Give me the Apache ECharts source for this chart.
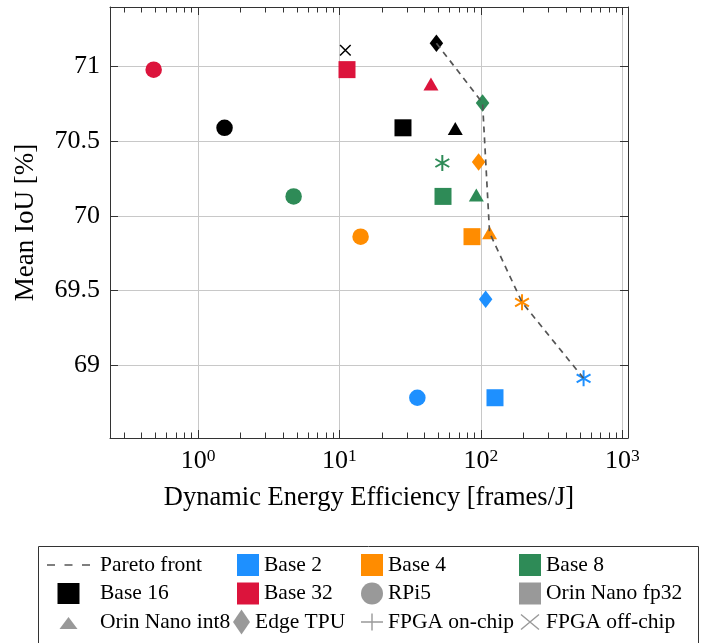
<!DOCTYPE html>
<html>
<head>
<meta charset="utf-8">
<script src="https://cdn.jsdelivr.net/npm/echarts@6/dist/echarts.min.js"></script>
<style>
  html, body { margin: 0; padding: 0; background: #fff; }
  #chart { width: 716px; height: 643px; }
</style>
</head>
<body>
<div id="chart"></div>
<script>
// devices (marker shape) in this order for every base
const devices = ['RPi5', 'Orin Nano fp32', 'Orin Nano int8', 'Edge TPU', 'FPGA on-chip', 'FPGA off-chip'];

// dynamic energy efficiency [frames/J] and mean IoU [%], null = not measured
const base2Eff = [35.5, 125.6, null, 107.9, 531, null];
const base2IoU = [68.78, 68.78, null, 69.44, 68.91, null];
const base4Eff = [14.1, 86.4, 115, 96.2, 195, null];
const base4IoU = [69.86, 69.86, 69.886, 70.36, 69.42, null];
const base8Eff = [4.74, 53.9, 92.7, 102.6, 53.3, null];
const base8IoU = [70.13, 70.13, 70.14, 70.757, 70.354, null];
const base16Eff = [1.54, 28.1, 65.8, 48.4, null, 11.0];
const base16IoU = [70.59, 70.59, 70.585, 71.157, null, 71.11];
const base32Eff = [0.486, 11.3, 44.3, null, null, null];
const base32IoU = [70.98, 70.98, 70.884, null, null, null];

const paretoEff = [48.4, 102.6, 115, 195, 531];
const paretoIoU = [71.157, 70.757, 69.886, 69.42, 68.91];

const majorTicks = [1, 10, 100, 1000];
const minorTicks = [0.3, 0.4, 0.5, 0.6, 0.7, 0.8, 0.9,
    2, 3, 4, 5, 6, 7, 8, 9, 20, 30, 40, 50, 60, 70, 80, 90,
    200, 300, 400, 500, 600, 700, 800, 900];

const FONT = "'Liberation Serif', 'Times New Roman', serif";
const GRAY = '#808080';

// thin filled bar between two points, used to build asterisk / cross / plus marks
function bar(x1, y1, x2, y2, t) {
    const len = Math.hypot(x2 - x1, y2 - y1);
    const nx = -(y2 - y1) / len * t / 2;
    const ny = (x2 - x1) / len * t / 2;
    const p = (x, y) => x.toFixed(3) + ',' + y.toFixed(3);
    return 'M' + p(x1 + nx, y1 + ny) + 'L' + p(x2 + nx, y2 + ny) +
        'L' + p(x2 - nx, y2 - ny) + 'L' + p(x1 - nx, y1 - ny) + 'Z';
}

// the two lone moves give the shape a fixed bounding box
function shape(hw, hh, parts) {
    return 'path://M' + (-hw) + ',' + (-hh) + 'M' + hw + ',' + hh + parts.join('');
}

const c30 = Math.cos(Math.PI / 6) * 8, s30 = Math.sin(Math.PI / 6) * 8;
const asteriskMark = shape(8, 8, [
    bar(0, -8, 0, 8, 2),
    bar(-c30, -s30, c30, s30, 2),
    bar(-c30, s30, c30, -s30, 2)
]);
const crossMark = shape(6, 6, [bar(-5.3, -5.3, 5.3, 5.3, 1.5), bar(-5.3, 5.3, 5.3, -5.3, 1.5)]);

const plusIcon = shape(11, 11, [bar(-11, 0, 11, 0, 1.4), bar(0, -8.5, 0, 8.5, 1.4)]);
const crossIcon = shape(11, 11, [bar(-9, -7.5, 9, 7.5, 1.4), bar(-9, 7.5, 9, -7.5, 1.4)]);
const triangleIcon = shape(21.5, 11, ['M-9,7L9,7L0,-5Z']);
const squareWideIcon = shape(21.5, 11, ['M-11,-10.5L11,-10.5L11,10.5L-11,10.5Z']);
const dashIcon = shape(21.5, 11, [
    bar(-21.5, 0, -13.5, 0, 1.6), bar(-4, 0, 4, 0, 1.6), bar(13.5, 0, 21.5, 0, 1.6)
]);
const diamondIcon = 'path://M0,-12.5L8.5,0L0,12.5L-8.5,0Z';

const deviceSymbols = ['circle', 'rect', 'triangle', 'diamond', asteriskMark, crossMark];
const deviceSizes = [16.5, 17, [15, 13], [13.5, 17.5], 16, 12];

function buildPoints(eff, iou) {
    const pts = [];
    eff.forEach((x, i) => {
        if (x == null) return;
        pts.push({ value: [x, iou[i]], symbol: deviceSymbols[i], symbolSize: deviceSizes[i] });
    });
    return pts;
}

function baseSeries(name, color, eff, iou) {
    return {
        name: name,
        type: 'scatter',
        itemStyle: { color: color, opacity: 1 },
        data: buildPoints(eff, iou),
        z: 2
    };
}

function deviceSeries(name) {
    return { name: name, type: 'scatter', itemStyle: { color: GRAY }, data: [] };
}

function legendCol(left, top, itemWidth, itemHeight, items, extraText) {
    return {
        orient: 'vertical',
        left: left,
        top: top,
        padding: 0,
        itemWidth: itemWidth,
        itemHeight: itemHeight,
        itemGap: 6.5,
        selectedMode: false,
        textStyle: Object.assign({ fontFamily: FONT, fontSize: 21.5, color: '#000', lineHeight: 22 }, extraText || {}),
        data: items
    };
}

const xMin = 0.2388, xMax = 1094;
const yMin = 68.51, yMax = 71.4;
const AXIS = '#333';

document.addEventListener('DOMContentLoaded', () => {
    const chart = echarts.init(document.getElementById('chart'));

    const tickStyle = { color: AXIS, width: 1 };
    const hiddenX = (pos, values, len, line) => ({
        type: 'log', min: xMin, max: xMax, position: pos,
        axisLine: { show: line, lineStyle: tickStyle },
        axisTick: { show: true, inside: true, length: len, customValues: values, lineStyle: tickStyle },
        axisLabel: { show: false },
        splitLine: { show: false }
    });

    const option = {
        animation: false,
        backgroundColor: '#fff',
        grid: { left: 110, right: 88, top: 7, bottom: 205, containLabel: false, outerBoundsMode: 'none' },
        xAxis: [
            {
                type: 'log', min: xMin, max: xMax, position: 'bottom',
                name: 'Dynamic Energy Efficiency [frames/J]',
                nameLocation: 'middle', nameGap: 47,
                nameTextStyle: { fontFamily: FONT, fontSize: 26.5, color: '#000' },
                axisLine: { show: true, lineStyle: tickStyle },
                axisTick: { show: true, inside: true, length: 8, lineStyle: tickStyle },
                axisLabel: {
                    margin: 9, showMinLabel: false, showMaxLabel: false,
                    formatter: (v) => '{b|10}{s|' + Math.round(Math.log10(v)) + '}',
                    rich: {
                        b: { fontFamily: FONT, fontSize: 26, color: '#000', lineHeight: 28 },
                        s: { fontFamily: FONT, fontSize: 17.5, color: '#000', lineHeight: 17, verticalAlign: 'top' }
                    }
                },
                splitLine: { show: true, lineStyle: { color: '#c8c8c8', width: 1 } }
            },
            hiddenX('bottom', minorTicks, 5.5, false),
            hiddenX('top', majorTicks, 8, true),
            hiddenX('top', minorTicks, 5.5, false)
        ],
        yAxis: [
            {
                type: 'value', min: yMin, max: yMax, position: 'left',
                name: 'Mean IoU [%]', nameLocation: 'middle', nameGap: 71, nameRotate: 90,
                nameTextStyle: { fontFamily: FONT, fontSize: 27, color: '#000' },
                axisLine: { show: true, lineStyle: tickStyle },
                axisTick: { show: true, inside: true, length: 8, lineStyle: tickStyle },
                axisLabel: { margin: 10, showMinLabel: false, showMaxLabel: false, fontFamily: FONT, fontSize: 26, color: '#000' },
                splitLine: { show: true, lineStyle: { color: '#c8c8c8', width: 1 } }
            },
            {
                type: 'value', min: yMin, max: yMax, position: 'right',
                axisLine: { show: true, lineStyle: tickStyle },
                axisTick: { show: true, inside: true, length: 8, lineStyle: tickStyle },
                axisLabel: { show: false },
                splitLine: { show: false }
            }
        ],
        legend: [
            legendCol(47, 554, 43, 22, [
                { name: 'Pareto front', icon: dashIcon, itemStyle: { color: '#555' } },
                { name: 'Base 16', icon: squareWideIcon },
                { name: 'Orin Nano int8', icon: triangleIcon }
            ], { padding: [0, 0, 0, 5] }),
            legendCol(237, 554, 22, 22, [
                { name: 'Base 2', icon: 'rect' },
                { name: 'Base 32', icon: 'rect' }
            ]),
            legendCol(233, 609.5, 17, 25, [
                { name: 'Edge TPU', icon: diamondIcon }
            ]),
            legendCol(361, 554, 22, 22, [
                { name: 'Base 4', icon: 'rect' },
                { name: 'RPi5', icon: 'circle' },
                { name: 'FPGA on-chip', icon: plusIcon }
            ]),
            legendCol(519, 554, 22, 22, [
                { name: 'Base 8', icon: 'rect' },
                { name: 'Orin Nano fp32', icon: 'rect' },
                { name: 'FPGA off-chip', icon: crossIcon }
            ])
        ],
        graphic: [{
            type: 'rect', silent: true,
            shape: { x: 38.5, y: 546.5, width: 660, height: 110 },
            style: { fill: 'none', stroke: AXIS, lineWidth: 1 }
        }],
        series: [
            baseSeries('Base 2', '#1E90FF', base2Eff, base2IoU),
            baseSeries('Base 4', '#FF8C00', base4Eff, base4IoU),
            baseSeries('Base 8', '#2E8B57', base8Eff, base8IoU),
            baseSeries('Base 16', '#000000', base16Eff, base16IoU),
            baseSeries('Base 32', '#DC143C', base32Eff, base32IoU),
            {
                name: 'Pareto front',
                type: 'line',
                symbol: 'none',
                data: paretoEff.map((x, i) => [x, paretoIoU[i]]),
                lineStyle: { color: '#555', width: 1.7, type: [6, 5] },
                itemStyle: { color: '#555' },
                z: 3
            }
        ].concat(devices.map(deviceSeries))
    };

    chart.setOption(option);
});
</script>
</body>
</html>
